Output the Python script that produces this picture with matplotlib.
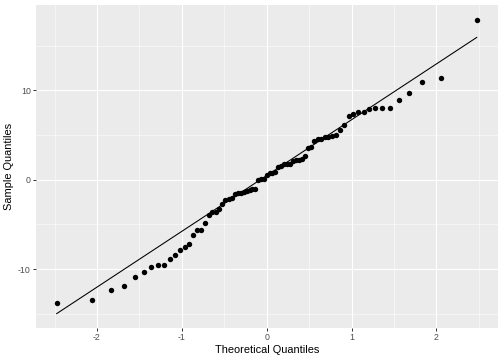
import numpy as np
import matplotlib
matplotlib.use("Agg")
import matplotlib.pyplot as plt
from statistics import NormalDist

# sorted sample values (n = 75)
sample = [
    -13.8, -13.48, -12.35, -11.86, -10.89, -10.36, -9.76, -9.5, -9.5, -8.86,
    -8.38, -7.86, -7.52, -7.18, -6.19, -5.67, -5.6, -4.8, -3.9, -3.6,
    -3.6, -3.3, -2.74, -2.29, -2.2, -2.1, -1.55, -1.52, -1.48, -1.38,
    -1.28, -1.15, -1.08, -1.05, 0.0, 0.05, 0.1, 0.55, 0.75, 0.8,
    0.85, 1.4, 1.5, 1.7, 1.75, 1.8, 2.1, 2.2, 2.25, 2.3,
    2.6, 3.5, 3.7, 4.3, 4.5, 4.6, 4.75, 4.83, 4.85, 4.95,
    5.6, 6.15, 7.1, 7.4, 7.6, 7.6, 7.9, 8.0, 8.07, 8.07,
    8.9, 9.72, 10.96, 11.34, 17.9,
]

x_ticks = [-2, -1, 0, 1, 2]
y_ticks = [-10, 0, 10]

# theoretical quantiles as stat_qq computes them (ppoints)
y = np.sort(np.array(sample))
n = len(y)
nd = NormalDist()
x = np.array([nd.inv_cdf((i - 0.5) / n) for i in range(1, n + 1)])

# qq line through the quartiles
q1, q3 = np.quantile(y, [0.25, 0.75])
z1, z3 = nd.inv_cdf(0.25), nd.inv_cdf(0.75)
slope = (q3 - q1) / (z3 - z1)
intercept = q1 - slope * z1
line_x = np.array([x.min(), x.max()])
line_y = intercept + slope * line_x

plt.rcParams['font.family'] = ['Liberation Sans', 'DejaVu Sans']
plt.rcParams['axes.unicode_minus'] = False

fig = plt.figure(figsize=(7, 5), dpi=72)
ax = fig.add_axes([0.0708, 0.088, 0.9167, 0.898])
ax.set_facecolor('#EBEBEB')

# ggplot-like limits with 5% expansion
xr = x.max() - x.min()
ax.set_xlim(x.min() - 0.05 * xr, x.max() + 0.05 * xr)
ylo = min(y.min(), line_y.min())
yhi = max(y.max(), line_y.max())
yr = yhi - ylo
ax.set_ylim(ylo - 0.05 * yr, yhi + 0.05 * yr)

ax.set_xticks(x_ticks)
ax.set_yticks(y_ticks)
ax.set_xticks([-2.5, -1.5, -0.5, 0.5, 1.5, 2.5], minor=True)
ax.set_yticks([-15, -5, 5, 15], minor=True)
ax.grid(which='major', color='white', linewidth=1.1)
ax.grid(which='minor', color='white', linewidth=0.55)
ax.set_axisbelow(True)
for s in ax.spines.values():
    s.set_visible(False)

ax.tick_params(which='major', length=2.75, width=1.0, color='#333333',
               labelsize=8.8, labelcolor='#4D4D4D', pad=2.2)
ax.tick_params(which='minor', length=0)

ax.plot(line_x, line_y, color='black', linewidth=1.07, zorder=2)
ax.plot(x, y, 'o', color='black', markersize=5.4, markeredgewidth=0, zorder=3)

ax.set_xlabel('Theoretical Quantiles', fontsize=11, color='black', labelpad=3)
ax.set_ylabel('Sample Quantiles', fontsize=11, color='black', labelpad=4)

fig.savefig('out.png', dpi=72)
